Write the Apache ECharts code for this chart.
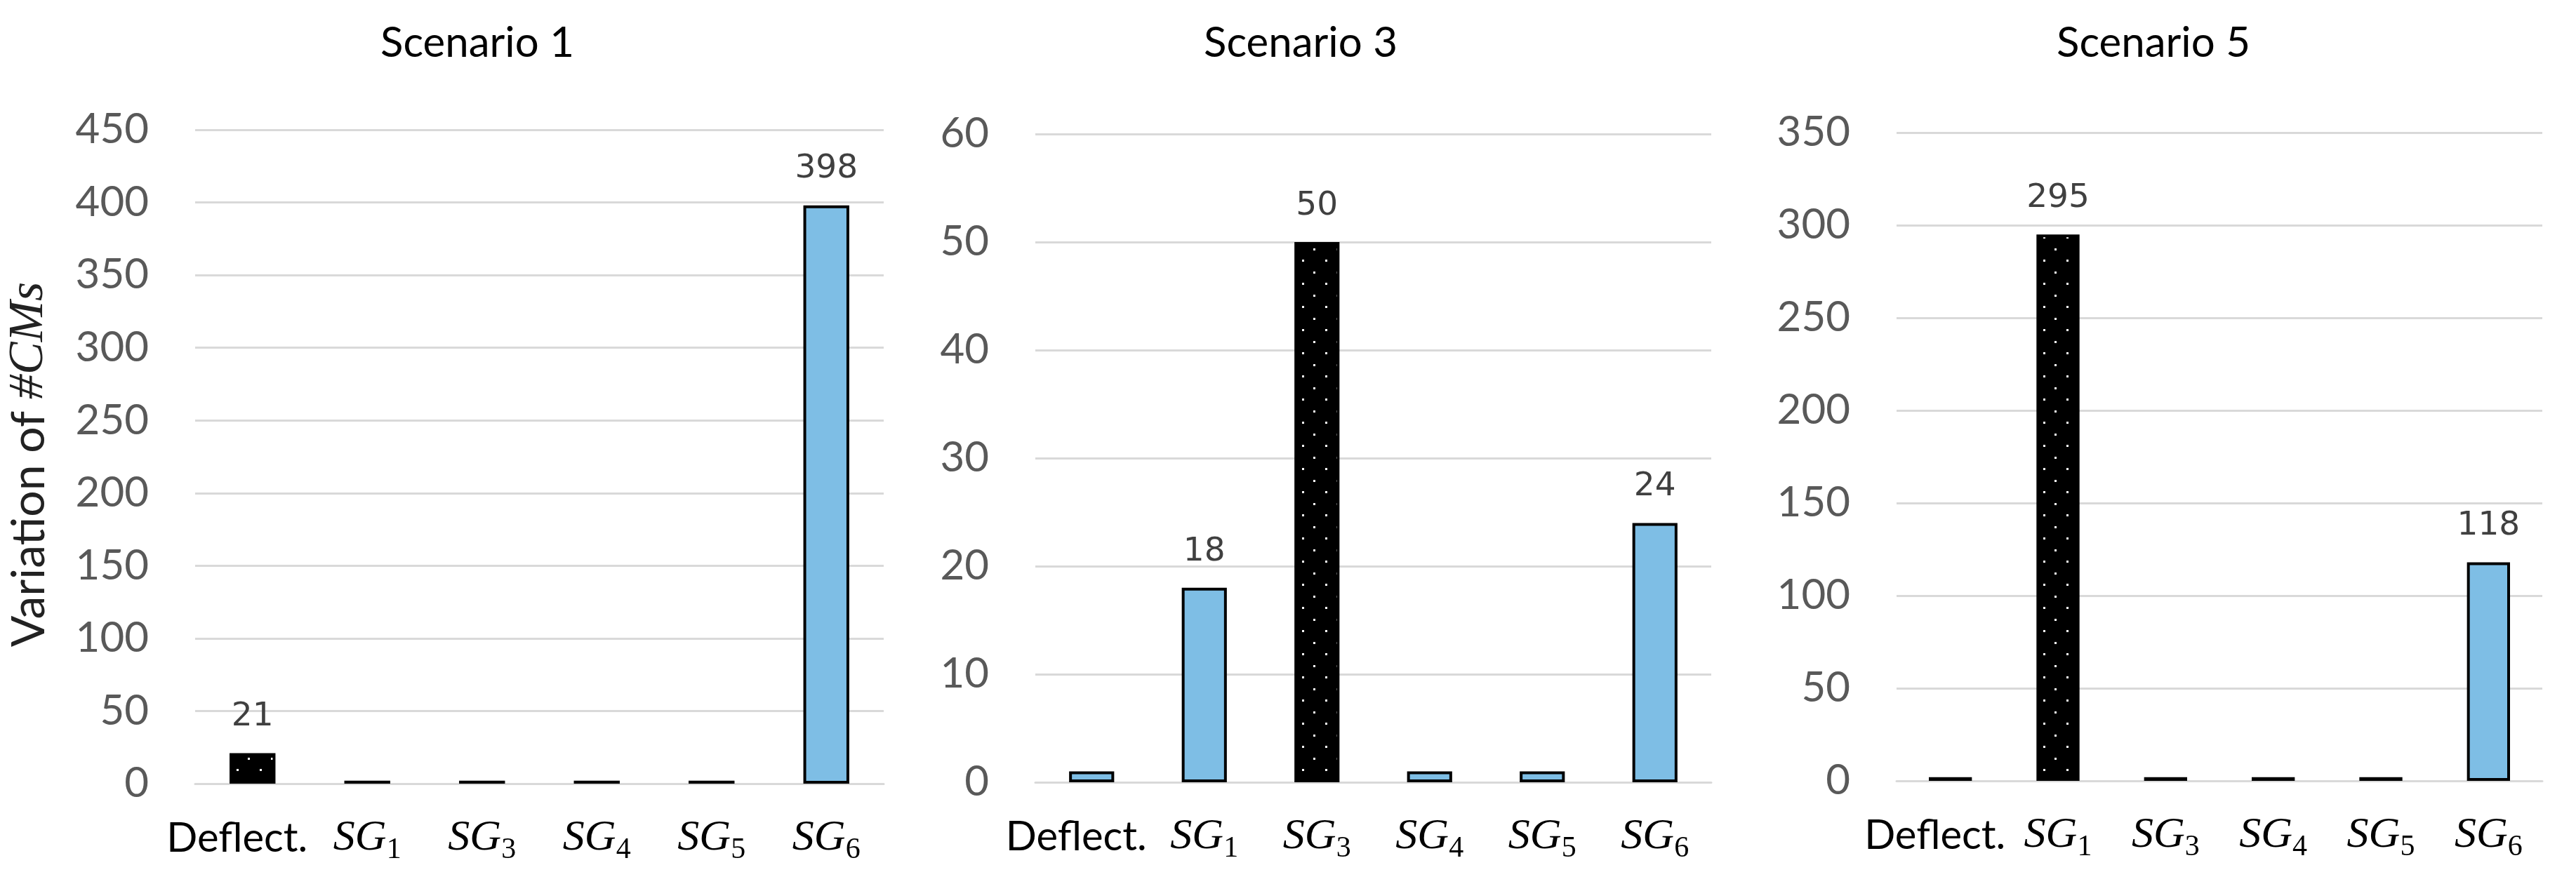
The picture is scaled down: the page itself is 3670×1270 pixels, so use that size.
<!DOCTYPE html>
<html>
<head>
<meta charset="utf-8">
<script src="https://cdn.jsdelivr.net/npm/echarts@6/dist/echarts.min.js"></script>
<style>
  html, body { margin: 0; padding: 0; background: #fff; }
  #chart { width: 3670px; height: 1270px; }
</style>
</head>
<body>
<div id="chart"></div>
<script>
const categories = ['Deflect.', 'SG1', 'SG3', 'SG4', 'SG5', 'SG6'];
const scenarioNames = ['Scenario 1', 'Scenario 3', 'Scenario 5'];
const scenario1 = [21, 2, 2, 2, 2, 398];
const scenario3 = [1, 18, 50, 1, 1, 24];
const scenario5 = [2, 295, 2, 2, 2, 118];
// index of the bar drawn black with white dots in each panel
const dottedBar = [0, 2, 1];
const yMax = [450, 60, 350];
const yStep = [50, 10, 50];

const allValues = [scenario1, scenario3, scenario5];
const blue = '#7EBEE5';

// dotted fill like the excel pattern
const dots = document.createElement('canvas');
dots.width = 33;
dots.height = 33;
const ctx = dots.getContext('2d');
ctx.fillStyle = '#000';
ctx.fillRect(0, 0, 33, 33);
ctx.fillStyle = '#fff';
ctx.fillRect(7, 7, 3, 3);
ctx.fillRect(23, 24, 3, 3);

const grids = [
    { left: 278, width: 981, top: 185, height: 932 },
    { left: 1475, width: 963, top: 191, height: 924 },
    { left: 2702, width: 920, top: 189, height: 924 }
];
const titleX = [680, 1853, 3068];

const catLabel = {
    margin: 40,
    interval: 0,
    hideOverlap: false,
    color: '#000',
    formatter: (v) => {
        if (v.startsWith('SG')) return '{sg|SG}{sub|' + v.slice(2) + '}';
        return '{d|' + v + '}';
    },
    rich: {
        d: { fontFamily: 'Lato', fontSize: 58, color: '#000', lineHeight: 76, verticalAlign: 'middle', padding: [0, 44, 0, 0] },
        sg: { fontFamily: 'Liberation Serif', fontStyle: 'italic', fontSize: 62, color: '#000', lineHeight: 76, verticalAlign: 'middle' },
        sub: { fontFamily: 'Liberation Serif', fontSize: 42, color: '#000', lineHeight: 38, verticalAlign: 'bottom' }
    }
};

const myChart = echarts.init(document.getElementById('chart'));

const option = {
    animation: false,
    backgroundColor: '#fff',
    grid: grids.map(g => Object.assign({ containLabel: false }, g)),
    xAxis: grids.map((g, i) => ({
        type: 'category',
        gridIndex: i,
        data: categories,
        axisLine: { show: true, lineStyle: { color: '#D9D9D9', width: 3 } },
        axisTick: { show: false },
        axisLabel: catLabel
    })),
    yAxis: grids.map((g, i) => ({
        type: 'value',
        gridIndex: i,
        min: 0,
        max: yMax[i],
        interval: yStep[i],
        axisLine: { show: false },
        axisTick: { show: false },
        splitLine: { lineStyle: { color: '#D9D9D9', width: 3 } },
        axisLabel: { margin: 66, color: '#595959', fontFamily: 'Lato', fontSize: 60 }
    })),
    series: allValues.map((vals, i) => ({
        type: 'bar',
        xAxisIndex: i,
        yAxisIndex: i,
        barWidth: '40%',
        data: vals.map((v, k) => ({
            value: v,
            itemStyle: {
                color: k === dottedBar[i] ? { image: dots, repeat: 'repeat' } : blue,
                borderColor: '#000',
                borderWidth: 4
            },
            label: { show: v > 5 }
        })),
        label: {
            position: 'top',
            distance: 28,
            color: '#404040',
            fontFamily: 'DejaVu Sans',
            fontSize: 47
        }
    })),
    graphic: [
        ...scenarioNames.map((name, i) => ({
            type: 'text',
            x: titleX[i],
            y: 62,
            style: {
                text: name,
                fontFamily: 'Lato',
                fontSize: 60,
                fill: '#000',
                align: 'center',
                verticalAlign: 'middle'
            }
        })),
        {
            type: 'text',
            x: 42,
            y: 662,
            rotation: Math.PI / 2,
            style: {
                text: '{a|Variation of }{b|#CMs}',
                align: 'center',
                verticalAlign: 'middle',
                rich: {
                    a: { fontFamily: 'Lato', fontSize: 66, fill: '#222' },
                    b: { fontFamily: 'Liberation Serif', fontStyle: 'italic', fontSize: 70, fill: '#222' }
                }
            }
        }
    ]
};

myChart.setOption(option);
</script>
</body>
</html>
